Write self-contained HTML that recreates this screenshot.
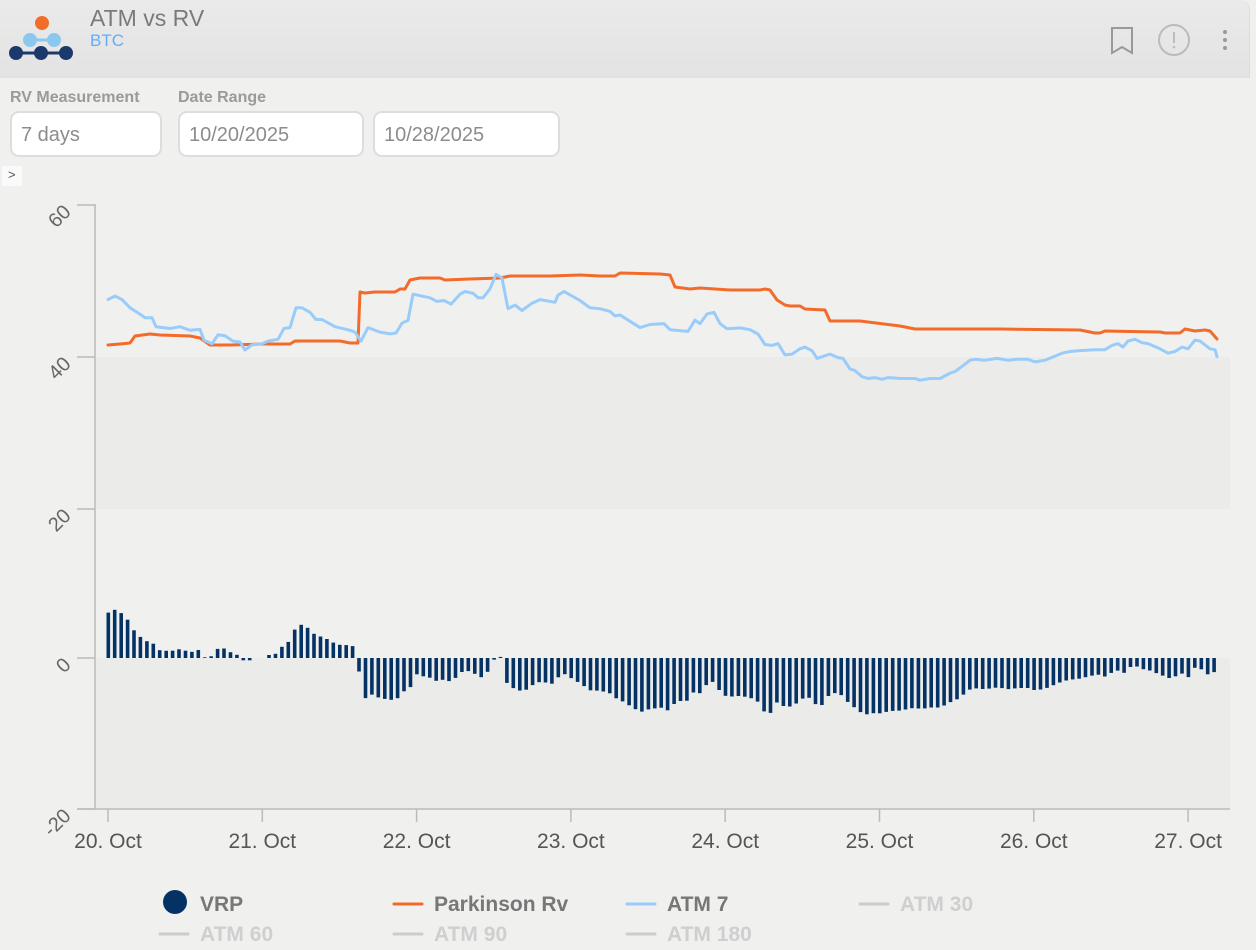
<!DOCTYPE html>
<html><head><meta charset="utf-8">
<style>
*{margin:0;padding:0;box-sizing:border-box}
body{width:1256px;height:950px;background:#f0f0ef;font-family:"Liberation Sans",sans-serif;position:relative;overflow:hidden}
.hdr{position:absolute;left:0;top:0;width:1250px;height:78px;background:linear-gradient(#eaeaea,#e3e3e3);border-radius:0 10px 0 0;border-right:1px solid #ddd}
.t1{position:absolute;left:90px;top:5px;font-size:23px;color:#7a7a7a}
.t2{position:absolute;left:90px;top:31px;font-size:17px;color:#62adf7}
.lbl{position:absolute;top:89px;font-size:16px;font-weight:bold;color:#9a9a9a}
.inp{position:absolute;top:111px;height:46px;background:#fff;border:2px solid #ddd;border-radius:9px;font-size:20px;color:#8c8c8c;padding:11px 0 0 9px}
</style></head><body>
<div class="hdr">
<div class="t1">ATM vs RV</div><div class="t2">BTC</div>
</div>
<svg style="position:absolute;left:0;top:0" width="80" height="70">
<circle cx="42" cy="23" r="7" fill="#f36d2a"/>
<line x1="30" y1="40" x2="54" y2="40" stroke="#8cc8ee" stroke-width="3"/>
<circle cx="30" cy="40" r="7" fill="#8cc8ee"/><circle cx="54" cy="40" r="7" fill="#8cc8ee"/>
<line x1="15" y1="53" x2="67" y2="53" stroke="#1b3a6b" stroke-width="3"/>
<circle cx="16" cy="53" r="7" fill="#1b3a6b"/><circle cx="41" cy="53" r="7" fill="#1b3a6b"/><circle cx="66" cy="53" r="7" fill="#1b3a6b"/>
</svg>
<svg style="position:absolute;left:1100px;top:20px" width="150" height="40">
<path d="M12 8 H32 V33 L22 27 L12 33 Z" fill="none" stroke="#999" stroke-width="2"/>
<circle cx="74" cy="20" r="15" fill="none" stroke="#bbb" stroke-width="2"/>
<line x1="74" y1="12" x2="74" y2="23" stroke="#bbb" stroke-width="2"/><circle cx="74" cy="27" r="1.3" fill="#bbb"/>
<circle cx="125" cy="12" r="2" fill="#999"/><circle cx="125" cy="20" r="2" fill="#999"/><circle cx="125" cy="28" r="2" fill="#999"/>
</svg>
<div class="lbl" style="left:10px">RV Measurement</div>
<div class="lbl" style="left:178px">Date Range</div>
<div class="inp" style="left:10px;width:152px">7 days</div>
<div class="inp" style="left:178px;width:186px">10/20/2025</div>
<div class="inp" style="left:373px;width:187px">10/28/2025</div>
<div style="position:absolute;left:2px;top:166px;width:20px;height:20px;background:#fafafa;color:#555;font-size:13px;padding:1px 0 0 6px">&gt;</div>
<svg id="ch" style="position:absolute;left:0;top:0" width="1256" height="950"></svg>
<script>
var O=[[108,345],[120,344],[130,343],[135,336],[150,334],[160,335],[190,336],[200,338],[210,345],[230,345],[262,344],[290,344],[295,341],[300,341],[340,341],[350,343],[355,343],[358,343],[360,292],[365,293],[375,292],[395,292],[400,289],[405,289],[410,280],[420,278],[440,278],[445,280],[470,279],[500,278],[510,276],[550,276],[580,275],[600,276],[615,276],[620,273],[660,274],[670,275],[675,287],[690,289],[700,288],[730,290],[760,290],[765,289],[770,290],[777,300],[785,305],[790,306],[800,306],[805,309],[825,310],[830,321],[860,321],[900,326],[915,329],[940,329],[1000,329],[1080,330],[1095,333],[1100,333],[1105,331],[1160,332],[1165,333],[1180,333],[1185,329],[1195,331],[1205,330],[1210,331],[1217,339]];
var B=[[108,304],[115,300],[122,304],[130,313],[140,320],[145,324],[152,324],[156,334],[170,336],[180,334],[190,338],[200,337],[204,349],[212,353],[218,343],[225,344],[233,350],[240,351],[245,360],[252,354],[262,353],[268,350],[278,348],[284,336],[290,335],[296,313],[302,313],[310,318],[316,326],[322,326],[335,334],[350,338],[355,340],[361,350],[368,335],[380,340],[390,342],[396,341],[402,330],[408,327],[413,298],[430,302],[437,306],[444,305],[451,309],[460,298],[465,295],[473,297],[478,302],[483,302],[490,292],[496,276],[502,280],[508,314],[515,310],[522,316],[532,308],[540,304],[555,307],[558,299],[564,295],[572,300],[580,305],[590,313],[600,314],[610,317],[615,322],[620,321],[630,328],[640,335],[650,334],[664,333],[670,340],[688,342],[695,329],[700,333],[707,322],[714,320],[720,333],[727,339],[740,338],[750,340],[758,345],[765,357],[772,358],[778,356],[785,369],[792,368],[800,362],[805,360],[812,364],[817,373],[830,368],[838,372],[843,373],[850,385],[855,387],[862,394],[868,396],[875,395],[882,397],[888,395],[900,396],[915,396],[920,398],[930,396],[940,396],[950,390],[955,388],[960,384],[970,375],[975,374],[985,375],[997,373],[1008,375],[1017,374],[1028,374],[1035,377],[1045,375],[1062,367],[1070,365],[1080,364],[1095,363],[1105,363],[1112,358],[1118,356],[1123,360],[1128,353],[1135,351],[1142,355],[1148,356],[1160,362],[1168,367],[1175,365],[1182,360],[1188,362],[1195,352],[1200,353],[1210,362],[1215,363],[1217,371]];
B=B.map(function(p){var f=p[0]<650?0.901:0.871;return [p[0],+(260+(p[1]-260)*f).toFixed(1)];});
function at(P,x){for(var i=1;i<P.length;i++){if(P[i][0]>=x){var a=P[i-1],b=P[i];var t=(x-a[0])/((b[0]-a[0])||1);return a[1]+t*(b[1]-a[1]);}}return P[P.length-1][1];}
var s='';
s+='<rect x="96" y="357" width="1134" height="152" fill="#ebebea"/>';
s+='<rect x="96" y="658" width="1134" height="151" fill="#ebebea"/>';
for(var x=108;x<=1217;x+=154.3/24){
 if(x>250&&x<262)continue;
 var h=at(O,x)-at(B,x);
 if(Math.abs(h)<0.6)continue;
 var y=h>0?658-h:658;
 s+='<rect x="'+(x-1.5).toFixed(1)+'" y="'+y.toFixed(1)+'" width="3.6" height="'+Math.abs(h).toFixed(1)+'" fill="#043264"/>';
}
function pl(P,c){return '<polyline points="'+P.map(function(p){return p.join(',')}).join(' ')+'" fill="none" stroke="'+c+'" stroke-width="3" stroke-linejoin="round" stroke-linecap="round"/>';}
s+=pl(O,'#f36b2a');s+=pl(B,'#99ccfa');
s+='<line x1="95" y1="204" x2="95" y2="809" stroke="#bbb" stroke-width="1.5"/>';
s+='<line x1="77" y1="809" x2="1230" y2="809" stroke="#bbb" stroke-width="1.5"/>';
var yl=[[60,205],[40,357],[20,509],[0,658],[-20,809]];
yl.forEach(function(v){s+='<line x1="77" y1="'+v[1]+'" x2="95" y2="'+v[1]+'" stroke="#bbb" stroke-width="1.5"/>';
 s+='<text x="72" y="'+(v[1]+8)+'" font-size="20" fill="#666" text-anchor="end" transform="rotate(-45 72 '+(v[1]+8)+')">'+v[0]+'</text>';});
for(var d=0;d<8;d++){var x=108+d*154.3;s+='<line x1="'+x+'" y1="809" x2="'+x+'" y2="822" stroke="#bbb" stroke-width="1.5"/>';
 s+='<text x="'+x+'" y="848" font-size="21" fill="#555" text-anchor="middle">'+(20+d)+'. Oct</text>';}
function lg(x,y,t,c,on){s+='<line x1="'+(x-32)+'" y1="'+(y-7)+'" x2="'+(x-4)+'" y2="'+(y-7)+'" stroke="'+c+'" stroke-width="3" stroke-linecap="round"/>';
 s+='<text x="'+(x+8)+'" y="'+y+'" font-size="21" font-weight="bold" fill="'+(on?'#777':'#cfcfcf')+'">'+t+'</text>';}
s+='<ellipse cx="175" cy="902" rx="12" ry="12" fill="#043264"/><text x="200" y="911" font-size="21" font-weight="bold" fill="#777">VRP</text>';
lg(426,911,'Parkinson Rv','#f36b2a',1);lg(659,911,'ATM 7','#99ccfa',1);lg(892,911,'ATM 30','#ccc',0);
lg(192,941,'ATM 60','#ccc',0);lg(426,941,'ATM 90','#ccc',0);lg(659,941,'ATM 180','#ccc',0);
document.getElementById('ch').innerHTML=s;
</script>
</body></html>
